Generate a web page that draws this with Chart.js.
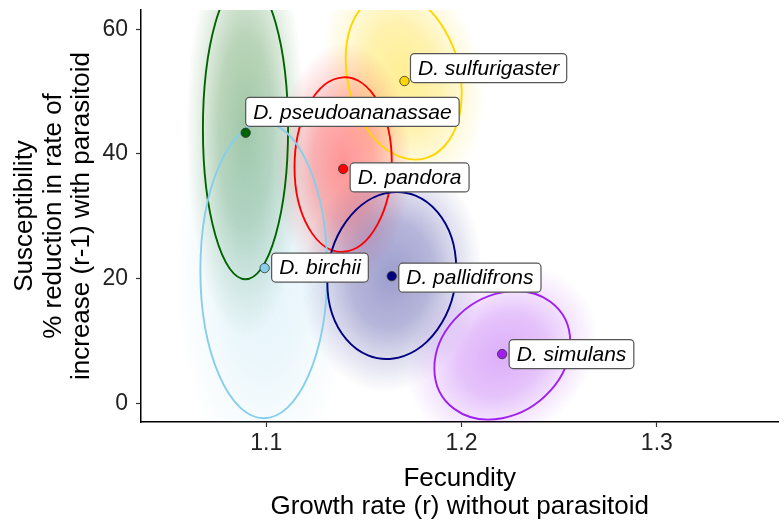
<!DOCTYPE html>
<html>
<head>
<meta charset="utf-8">
<script src="https://cdn.jsdelivr.net/npm/chart.js@4.4.1/dist/chart.umd.min.js"></script>
<style>
html, body { margin: 0; padding: 0; background: #fff; }
</style>
</head>
<body>
<canvas id="susceptibility_graph" width="784" height="524"></canvas>
<script>
// species means
const species = ['D. sulfurigaster', 'D. pseudoananassae', 'D. pandora', 'D. birchii', 'D. pallidifrons', 'D. simulans'];
const meanGrowth = [1.1708, 1.0895, 1.1394, 1.0992, 1.1643, 1.2208];
const meanSusc = [51.7, 43.4, 37.6, 21.7, 20.4, 7.9];

// 95% ellipses: centre, half width, half height, correlation
const ellCx = [1.1704, 1.0894, 1.1394, 1.0988, 1.1643, 1.2209];
const ellCy = [52.5, 44.0, 38.3, 21.3, 20.5, 7.7];
const ellHalfX = [0.0297, 0.0218, 0.0249, 0.0325, 0.0330, 0.0348];
const ellHalfY = [13.4, 24.1, 14.0, 23.7, 13.4, 10.3];
const ellRho = [-0.2, 0.0, 0.03, 0.0, 0.08, 0.2];

const xTicks = [1.1, 1.2, 1.3];
const xTickLabels = ['1.1', '1.2', '1.3'];
const yTicks = [0, 20, 40, 60];
const xRange = [1.0359, 1.3623];
const yRange = [-3.0, 63.1];

// styles
const colors = ['#FFD700', '#006400', '#FF0000', '#87CEEB', '#000080', '#A020F0'];
const cloudAlpha = [0.42, 0.36, 0.42, 0.22, 0.38, 0.36];
const labelDx = [6, 0, 7, 7, 7, 7];
const labelDy = [-13, -21, 8.5, -0.5, 1.5, 0];

const FONT = "'Liberation Sans', Arial, sans-serif";

function hexToRgb(hex) {
    const n = parseInt(hex.slice(1), 16);
    return [(n >> 16) & 255, (n >> 8) & 255, n & 255];
}

// unit circle -> ellipse in pixel space
function ellipseMatrix(i, x, y) {
    const cx = x.getPixelForValue(ellCx[i]);
    const cy = y.getPixelForValue(ellCy[i]);
    const hx = x.getPixelForValue(ellCx[i] + ellHalfX[i]) - cx;
    const hy = y.getPixelForValue(ellCy[i] + ellHalfY[i]) - cy;
    const r = ellRho[i];
    return [hx, hy * r, 0, hy * Math.sqrt(1 - r * r), cx, cy];
}

const ellipsePlugin = {
    id: 'ellipses',
    beforeDatasetsDraw(chart) {
        const { ctx, chartArea, scales: { x, y } } = chart;
        ctx.save();
        ctx.beginPath();
        ctx.rect(chartArea.left, chartArea.top, chartArea.right - chartArea.left, chartArea.bottom - chartArea.top);
        ctx.clip();

        // soft clouds
        for (let i = 0; i < species.length; i++) {
            const m = ellipseMatrix(i, x, y);
            const [r, g, b] = hexToRgb(colors[i]);
            const a = cloudAlpha[i];
            ctx.save();
            ctx.transform(...m);
            const grad = ctx.createRadialGradient(0, 0, 0, 0, 0, 1.4);
            grad.addColorStop(0, `rgba(${r},${g},${b},${a})`);
            grad.addColorStop(0.45, `rgba(${r},${g},${b},${a * 0.75})`);
            grad.addColorStop(0.72, `rgba(${r},${g},${b},${a * 0.35})`);
            grad.addColorStop(1, `rgba(${r},${g},${b},0)`);
            ctx.fillStyle = grad;
            ctx.beginPath();
            ctx.arc(0, 0, 1.4, 0, Math.PI * 2);
            ctx.fill();
            ctx.restore();
        }

        // ellipse outlines
        for (let i = 0; i < species.length; i++) {
            const m = ellipseMatrix(i, x, y);
            ctx.save();
            ctx.transform(...m);
            ctx.beginPath();
            ctx.arc(0, 0, 1, 0, Math.PI * 2);
            ctx.restore();
            ctx.strokeStyle = colors[i];
            ctx.lineWidth = 1.9;
            ctx.stroke();
        }
        ctx.restore();
    }
};

const labelPlugin = {
    id: 'speciesLabels',
    afterDatasetsDraw(chart) {
        const { ctx, scales: { x, y } } = chart;
        ctx.save();
        ctx.font = `italic 21px ${FONT}`;
        ctx.textBaseline = 'middle';
        ctx.textAlign = 'left';
        for (let i = 0; i < species.length; i++) {
            const px = x.getPixelForValue(meanGrowth[i]) + labelDx[i];
            const py = y.getPixelForValue(meanSusc[i]) + labelDy[i];
            const w = ctx.measureText(species[i]).width + 15;
            const h = 29;
            ctx.beginPath();
            ctx.roundRect(px, py - h / 2, w, h, 4);
            ctx.fillStyle = '#fff';
            ctx.fill();
            ctx.strokeStyle = '#555';
            ctx.lineWidth = 1.2;
            ctx.stroke();
            ctx.fillStyle = '#000';
            ctx.fillText(species[i], px + 7.5, py + 1);
        }
        ctx.restore();
    }
};

const ctx = document.getElementById('susceptibility_graph').getContext('2d');
new Chart(ctx, {
    type: 'scatter',
    data: {
        datasets: [{
            label: 'mean',
            data: meanGrowth.map((v, i) => ({ x: v, y: meanSusc[i] })),
            pointRadius: 4.7,
            pointBackgroundColor: colors,
            pointBorderColor: '#333',
            pointBorderWidth: 0.8,
            clip: false
        }]
    },
    options: {
        responsive: false,
        devicePixelRatio: 1,
        animation: false,
        layout: { padding: { top: 10, right: 0, bottom: 0, left: 0 } },
        plugins: {
            legend: { display: false },
            tooltip: { enabled: false }
        },
        scales: {
            x: {
                type: 'linear',
                min: xRange[0],
                max: xRange[1],
                afterBuildTicks: s => { s.ticks = xTicks.map(v => ({ value: v })); },
                afterFit: s => { s.height = 102; s.paddingLeft = 0; s.paddingRight = 0; },
                grid: { drawOnChartArea: false, color: '#333', tickLength: 5, tickWidth: 1.2 },
                border: { display: true, color: '#000', width: 1.5 },
                ticks: {
                    font: { family: FONT, size: 23 },
                    color: '#222',
                    padding: 3,
                    maxRotation: 0,
                    autoSkip: false,
                    callback: (v, i) => xTickLabels[i]
                },
                title: {
                    display: true,
                    text: ['Fecundity', 'Growth rate (r) without parasitoid'],
                    font: { family: FONT, size: 26, lineHeight: 1.08 },
                    color: '#000',
                    padding: { top: 0, bottom: 3 }
                }
            },
            y: {
                min: yRange[0],
                max: yRange[1],
                afterBuildTicks: s => { s.ticks = yTicks.map(v => ({ value: v })); },
                afterFit: s => { s.width = 141; s.paddingTop = 0; s.paddingBottom = 0; },
                grid: { drawOnChartArea: false, color: '#333', tickLength: 5, tickWidth: 1.2 },
                border: { display: true, color: '#000', width: 1.5 },
                ticks: {
                    font: { family: FONT, size: 23 },
                    color: '#222',
                    padding: 8
                },
                title: {
                    display: true,
                    text: ['Susceptibility', '% reduction in rate of', 'increase (r-1) with parasitoid'],
                    font: { family: FONT, size: 26, lineHeight: 1.1 },
                    color: '#000',
                    padding: { top: 10.5, bottom: 0 }
                }
            }
        }
    },
    plugins: [ellipsePlugin, labelPlugin]
});
</script>
</body>
</html>
